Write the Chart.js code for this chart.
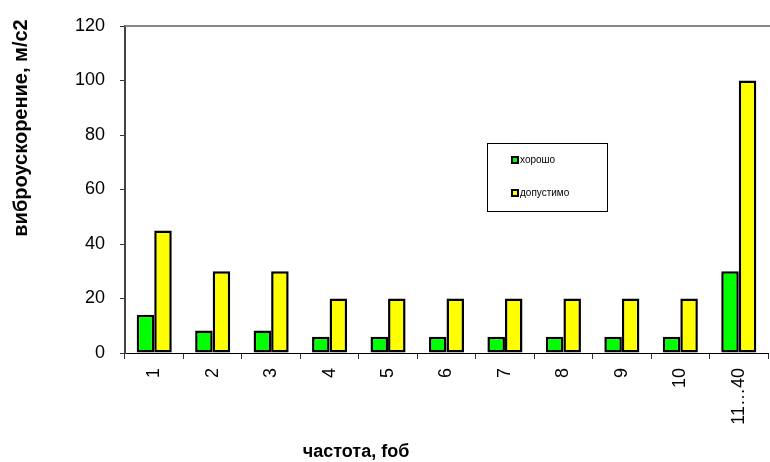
<!DOCTYPE html>
<html>
<head>
<meta charset="utf-8">
<style>
  html, body { margin: 0; padding: 0; background: #fff; }
  #wrap { width: 770px; height: 462px; position: relative; }
</style>
<script src="https://cdn.jsdelivr.net/npm/chart.js@4/dist/chart.umd.min.js"></script>
</head>
<body>
<div id="wrap"><canvas id="c" width="770" height="462"></canvas></div>
<script>
// Frequency bands and permitted vibration acceleration levels
const categories = ['1', '2', '3', '4', '5', '6', '7', '8', '9', '10', '11…40'];
const goodValues = [14, 8.3, 8.3, 6, 6, 6, 6, 6, 6, 6, 30];
const allowedValues = [45, 30, 30, 20, 20, 20, 20, 20, 20, 20, 100];
const seriesNames = ['хорошо', 'допустимо'];
const yTicks = [0, 20, 40, 60, 80, 100, 120];
const xTitle = 'частота, fоб';
const yTitle = 'виброускорение, м/с2';

const FONT = '"Liberation Sans", Arial, sans-serif';

// Boxed legend drawn inside the plot area
const boxLegend = {
  id: 'boxLegend',
  afterDraw(chart) {
    const ctx = chart.ctx;
    const x = 487, y = 143, w = 120, h = 68;
    ctx.save();
    ctx.fillStyle = '#fff';
    ctx.fillRect(x, y, w, h);
    ctx.strokeStyle = '#000';
    ctx.lineWidth = 1;
    ctx.strokeRect(x + 0.5, y + 0.5, w, h);
    ctx.font = '10px ' + FONT;
    ctx.textBaseline = 'middle';
    chart.data.datasets.forEach((ds, i) => {
      const cy = y + 17 + i * 33;
      ctx.fillStyle = '#000';
      ctx.fillRect(x + 24, cy - 4, 8, 8);
      ctx.fillStyle = ds.backgroundColor;
      ctx.fillRect(x + 26, cy - 2, 4, 4);
      ctx.fillStyle = '#000';
      ctx.fillText(ds.label, x + 33, cy);
    });
    ctx.restore();
  }
};

// Grey frame line along the top of the plot area
const topLine = {
  id: 'topLine',
  beforeDatasetsDraw(chart) {
    const { ctx, chartArea } = chart;
    ctx.save();
    ctx.strokeStyle = '#888';
    ctx.lineWidth = 2;
    ctx.beginPath();
    ctx.moveTo(chartArea.left, chartArea.top);
    ctx.lineTo(770, chartArea.top);
    ctx.stroke();
    ctx.restore();
  }
};

// Axis titles
const axisTitles = {
  id: 'axisTitles',
  afterDraw(chart) {
    const ctx = chart.ctx;
    ctx.save();
    ctx.fillStyle = '#000';
    ctx.textAlign = 'center';
    ctx.textBaseline = 'middle';
    ctx.font = 'bold 18px ' + FONT;
    ctx.fillText(xTitle, 356, 452);
    ctx.translate(21, 128);
    ctx.rotate(-Math.PI / 2);
    ctx.font = 'bold 20px ' + FONT;
    ctx.fillText(yTitle, 0, 0);
    ctx.restore();
  }
};

new Chart(document.getElementById('c'), {
  type: 'bar',
  data: {
    labels: categories,
    datasets: [
      { label: seriesNames[0], data: goodValues, backgroundColor: '#00ff00', borderColor: '#000', borderWidth: 2.5, borderSkipped: false },
      { label: seriesNames[1], data: allowedValues, backgroundColor: '#ffff00', borderColor: '#000', borderWidth: 2.5, borderSkipped: false }
    ]
  },
  options: {
    responsive: false,
    animation: false,
    layout: { padding: { top: 26, right: 2, left: 0, bottom: 0 } },
    datasets: { bar: { categoryPercentage: 0.6, barPercentage: 1.0 } },
    plugins: { legend: { display: false }, tooltip: { enabled: false } },
    scales: {
      x: {
        grid: { display: true, drawOnChartArea: false, drawTicks: true, tickLength: 6, color: '#333', offset: true },
        border: { display: true, color: '#000', width: 1 },
        ticks: { color: '#000', font: { family: FONT, size: 18 }, minRotation: 90, maxRotation: 90, padding: 9 },
        afterFit(scale) { scale.height = 109; }
      },
      y: {
        min: 0, max: 120,
        afterBuildTicks(scale) { scale.ticks = yTicks.map(v => ({ value: v })); },
        grid: { display: true, drawOnChartArea: false, drawTicks: true, tickLength: 5, color: '#333' },
        border: { display: true, color: '#444', width: 2 },
        ticks: { color: '#000', font: { family: FONT, size: 18 }, padding: 15 },
        afterFit(scale) { scale.width = 125; }
      }
    }
  },
  plugins: [topLine, axisTitles, boxLegend]
});
</script>
</body>
</html>
